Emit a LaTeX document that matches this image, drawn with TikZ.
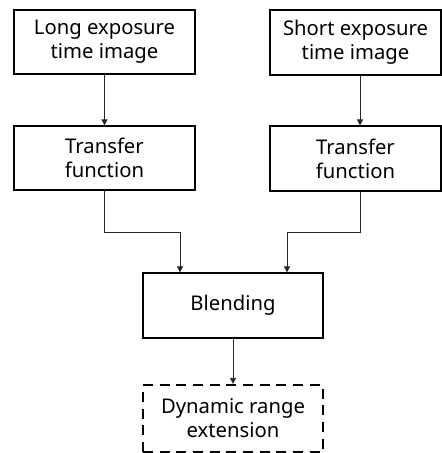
\documentclass[tikz,border=0pt]{standalone}
\usepackage{fontspec}
\setmainfont{Noto Sans}
\usetikzlibrary{arrows.meta}
\begin{document}
\begin{tikzpicture}[x=0.75pt,y=-0.75pt,
  box/.style={draw=black,line width=0.9pt,minimum width=#1*0.75pt,align=center,inner sep=0pt,
    font=\fontsize{15.2pt}{18pt}\selectfont},
  box/.default=181,
  conn/.style={line width=0.6pt,draw=black!85,-{Triangle[length=4.5pt,width=4.5pt]}},
  dashbox/.style={box=180,line width=1.9pt,dash pattern=on 7.5pt off 5pt}]
\useasboundingbox (0,0) rectangle (442,453);
\node[box=181,minimum height=48pt] (long) at (104.5,42) {Long exposure\\time image};
\node[box=171,minimum height=48.75pt] (short) at (355.5,42.5) {Short exposure\\time image};
\node[box=181,minimum height=48pt] (tfl) at (104.5,158) {Transfer\\function};
\node[box=171,minimum height=48.75pt] (tfr) at (355.5,158.5) {Transfer\\function};
\node[box=180,minimum height=48.75pt] (blend) at (233,305.5) {Blending};
\node[dashbox,minimum height=50pt] (dyn) at (233,418.5) {Dynamic range\\extension};
\coordinate (j1) at (180,232.5);
\coordinate (j2) at (287,232.5);
\draw[conn] (long.south) -- (tfl.north);
\draw[conn] ([xshift=3.4pt]short.south) -- ([xshift=3.4pt]tfr.north);
\draw[conn] (tfl.south) |- (j1) -- (j1 |- blend.north);
\draw[conn] ([xshift=3.4pt]tfr.south) |- (j2) -- (j2 |- blend.north);
\draw[conn] (blend.south) -- (dyn.north);
\end{tikzpicture}
\end{document}
